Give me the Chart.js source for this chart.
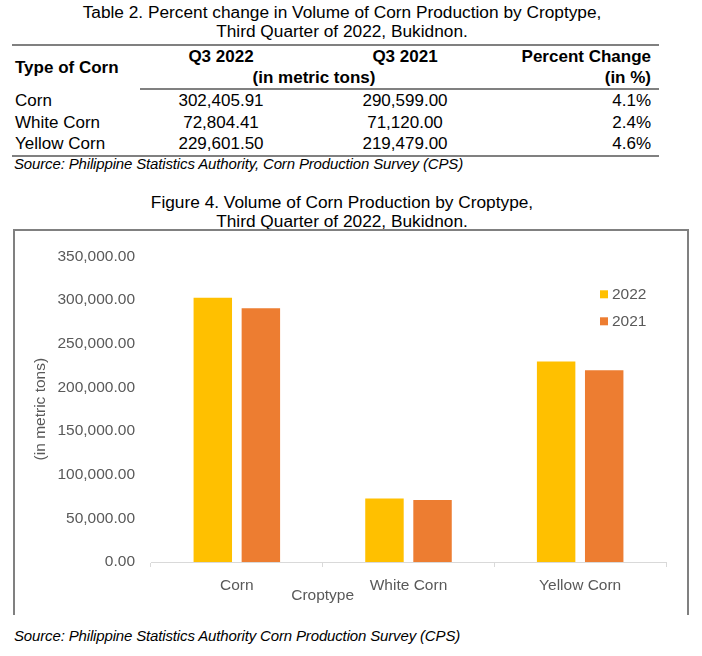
<!DOCTYPE html>
<html>
<head>
<meta charset="utf-8">
<script src="https://cdn.jsdelivr.net/npm/chart.js@4.4.1/dist/chart.umd.min.js"></script>
<style>
  html, body { margin: 0; padding: 0; background: #fff; }
  body { width: 702px; height: 656px; position: relative; overflow: hidden;
         font-family: 'Liberation Sans', Arial, sans-serif; color: #000; }
  .title { position: absolute; left: 0; width: 684px; text-align: center;
           font-size: 17.3px; line-height: 19px; }
  #tblTitle { top: 3px; }
  #figTitle { top: 193px; }
  table { position: absolute; left: 12px; top: 44px; width: 647px;
          border-collapse: collapse; font-size: 17px; }
  td { padding: 0; height: 21.5px; line-height: 21.5px; white-space: nowrap; }
  thead td { font-weight: bold; height: 21px; line-height: 21px; }
  thead tr:first-child td { border-top: 2px solid #808080; }
  thead tr:last-child td { border-bottom: 2px solid #808080; }
  tbody tr:last-child td { border-bottom: 2px solid #808080; }
  .c1 { width: 125px; padding-left: 3px; }
  .c2 { width: 162px; text-align: center; }
  .c3 { width: 206px; text-align: center; }
  .c4 { text-align: right; padding-right: 8px; }
  .unit { text-align: center; padding-right: 20px; }
  .src { position: absolute; left: 14px; font-style: italic; font-size: 15px;
         letter-spacing: -0.15px; }
  #src1 { top: 155px; }
  #src2 { top: 627px; }
  #box { position: absolute; left: 13px; top: 229px; width: 672px; height: 384px;
         border: 2px solid #808080; border-bottom: none; }
  #wrap { position: absolute; left: 15px; top: 231px; width: 670px; height: 380px; }
</style>
</head>
<body>
<div class="title" id="tblTitle">Table 2. Percent change in Volume of Corn Production by Croptype,<br>Third Quarter of 2022, Bukidnon.</div>
<table>
  <thead>
    <tr><td class="c1" rowspan="2">Type of Corn</td><td class="c2">Q3 2022</td><td class="c3">Q3 2021</td><td class="c4">Percent Change</td></tr>
    <tr><td colspan="2" class="unit">(in metric tons)</td><td class="c4">(in %)</td></tr>
  </thead>
  <tbody id="rows"></tbody>
</table>
<div class="src" id="src1">Source: Philippine Statistics Authority, Corn Production Survey (CPS)</div>

<div class="title" id="figTitle">Figure 4. Volume of Corn Production by Croptype,<br>Third Quarter of 2022, Bukidnon.</div>
<div id="box"></div>
<div id="wrap"><canvas id="chart"></canvas></div>
<div class="src" id="src2">Source: Philippine Statistics Authority Corn Production Survey (CPS)</div>

<script>
// --- data ---------------------------------------------------------
const categories = ['Corn', 'White Corn', 'Yellow Corn'];
const q3_2022 = [302405.91, 72804.41, 229601.50];
const q3_2021 = [290599.00, 71120.00, 219479.00];
const pctChange = [4.1, 2.4, 4.6];
const seriesLabels = ['2022', '2021'];
const seriesColors = ['#FFC000', '#ED7D31'];

const fmt = v => v.toLocaleString('en-US', { minimumFractionDigits: 2, maximumFractionDigits: 2 });

// --- table rows ---------------------------------------------------
const tbody = document.getElementById('rows');
categories.forEach((c, i) => {
  const tr = document.createElement('tr');
  tr.innerHTML = `<td class="c1">${c}</td><td class="c2">${fmt(q3_2022[i])}</td>` +
    `<td class="c3">${fmt(q3_2021[i])}</td><td class="c4">${pctChange[i].toFixed(1)}%</td>`;
  tbody.appendChild(tr);
});

// --- chart --------------------------------------------------------
const FONT = { family: "'Liberation Sans', Arial, sans-serif", size: 15.5 };
const GREY = '#595959';

// legend drawn inside the plot, top right
const insideLegend = {
  id: 'insideLegend',
  afterDraw(chart) {
    const { ctx, chartArea } = chart;
    ctx.save();
    ctx.font = `${FONT.size}px ${FONT.family}`;
    ctx.textBaseline = 'middle';
    chart.data.datasets.forEach((ds, i) => {
      const y = chartArea.top + 38 + i * 27;
      ctx.fillStyle = ds.backgroundColor;
      ctx.fillRect(chartArea.right - 66, y - 4, 8, 8);
      ctx.fillStyle = GREY;
      ctx.fillText(ds.label, chartArea.right - 54, y);
    });
    ctx.restore();
  }
};

// x axis title placed between first and second category, like the source
const xTitle = {
  id: 'xTitle',
  afterDraw(chart) {
    const { ctx } = chart;
    const x = chart.scales.x.getPixelForValue(0.5);
    ctx.save();
    ctx.font = `${FONT.size}px ${FONT.family}`;
    ctx.fillStyle = GREY;
    ctx.textAlign = 'center';
    ctx.textBaseline = 'middle';
    ctx.fillText('Croptype', x, chart.chartArea.bottom + 34);
    ctx.restore();
  }
};

new Chart(document.getElementById('chart').getContext('2d'), {
  type: 'bar',
  data: {
    labels: categories,
    datasets: [
      { label: seriesLabels[0], data: q3_2022, backgroundColor: seriesColors[0] },
      { label: seriesLabels[1], data: q3_2021, backgroundColor: seriesColors[1] },
    ]
  },
  options: {
    responsive: true,
    maintainAspectRatio: false,
    animation: false,
    layout: { padding: { top: 19, right: 19, bottom: 0, left: 0 } },
    datasets: { bar: { categoryPercentage: 0.56, barPercentage: 0.8 } },
    plugins: { legend: { display: false }, tooltip: { enabled: false } },
    scales: {
      x: {
        afterFit: s => { s.height = 49; },
        grid: { offset: true, drawOnChartArea: false, drawTicks: true, tickLength: 5, color: '#d9d9d9' },
        border: { color: '#d9d9d9' },
        ticks: { color: GREY, font: FONT, padding: 9, maxRotation: 0 }
      },
      y: {
        min: 0, max: 350000,
        afterFit: s => { s.width = 136; },
        grid: { display: false, drawTicks: false },
        border: { display: false },
        ticks: { stepSize: 50000, color: GREY, font: FONT, padding: 16, callback: v => fmt(v) },
        title: { display: true, text: '(in metric tons)', color: GREY, font: FONT, padding: { top: 16, bottom: 0 } }
      }
    }
  },
  plugins: [insideLegend, xTitle]
});
</script>
</body>
</html>
